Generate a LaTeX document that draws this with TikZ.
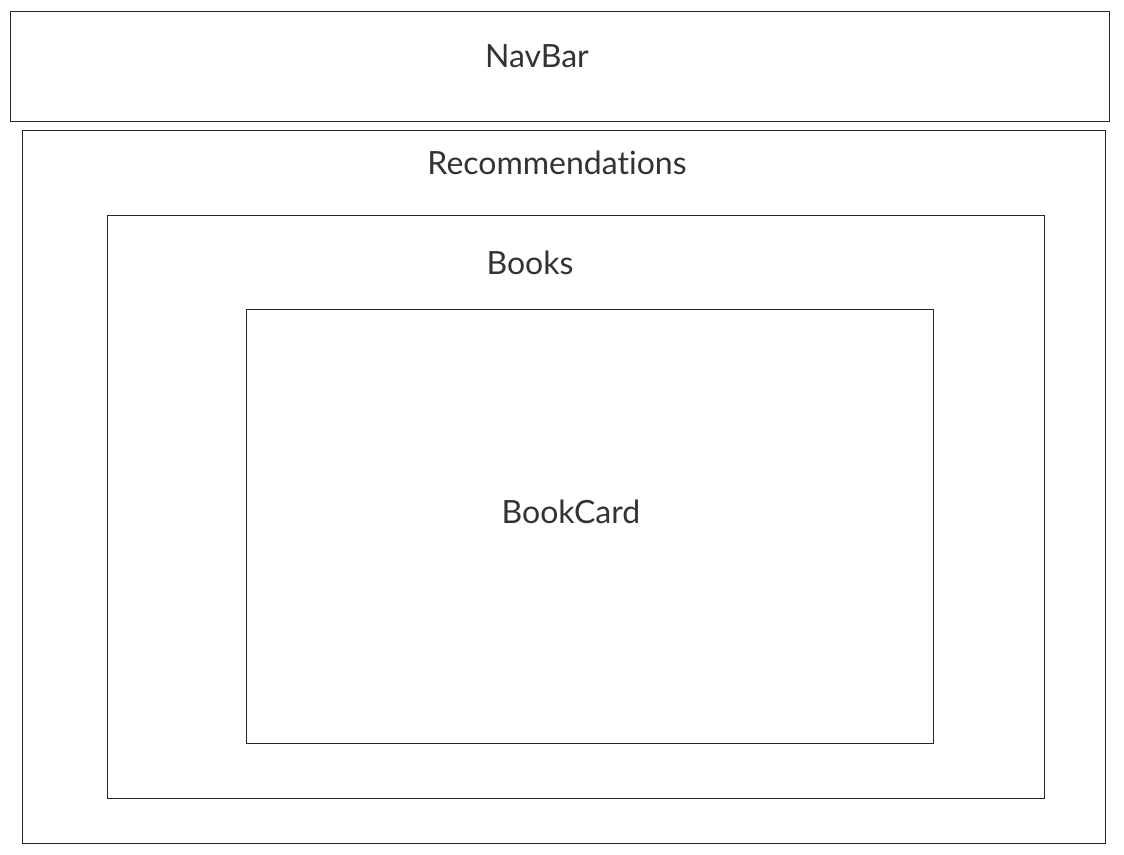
\documentclass[tikz,border=0pt]{standalone}
\usepackage{fontspec}
\setmainfont{Lato}[Ligatures={NoCommon,NoContextual}]
\begin{document}
\begin{tikzpicture}[x=1pt,y=-1pt,
  box/.style={draw=black!85,line width=0.9pt,fill=none},
  lbl/.style={text=black!80,font=\fontsize{32}{36}\selectfont,inner sep=0pt}]
\useasboundingbox (0,0) rectangle (1124,854);
\fill[white] (0,0) rectangle (1124,854);
\draw[box] (10,11) rectangle (1109,121);
\draw[box] (22,130) rectangle (1105,843);
\draw[box] (107,215) rectangle (1044,798);
\draw[box] (246,309) rectangle (933,743);
\node[lbl] (navbar) at (537,56) {NavBar};
\node[lbl] (recs) at (557,163) {Recommendations};
\node[lbl] (books) at (530,263) {Books};
\node[lbl] (bookcard) at (571,512) {BookCard};
\end{tikzpicture}
\end{document}
